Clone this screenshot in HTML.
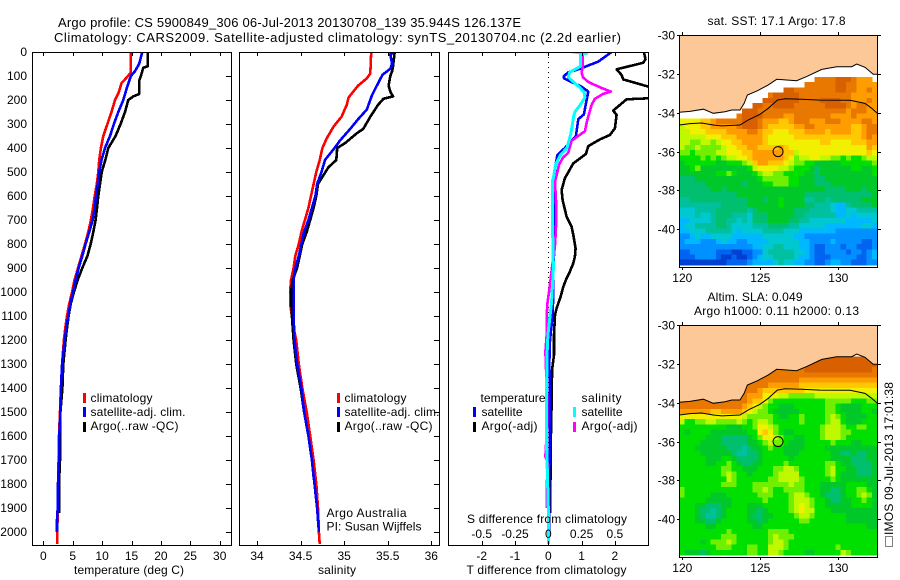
<!DOCTYPE html>
<html lang="en">
<head>
<meta charset="utf-8">
<title>Argo profile</title>
<style>
html,body{margin:0;padding:0;background:#fff;}
#stage{display:block;width:900px;height:580px;}
text{font-family:"Liberation Sans",sans-serif;font-size:12px;fill:#000;}
</style>
</head>
<body>
<svg id="stage" xmlns="http://www.w3.org/2000/svg" width="900" height="580" viewBox="0 0 900 580">
<rect x="0" y="0" width="900" height="580" fill="#fff"/>
<defs>
<clipPath id="clip-t"><rect x="32" y="52" width="199" height="493"/></clipPath>
<clipPath id="clip-s"><rect x="239" y="52" width="200" height="493"/></clipPath>
<clipPath id="clip-d"><rect x="448" y="52" width="200" height="493"/></clipPath>
<clipPath id="clip-m1"><rect x="679" y="35" width="198" height="232"/></clipPath>
<clipPath id="clip-m2"><rect x="679" y="325" width="198" height="232"/></clipPath>
</defs>
<g>
<text x="58" y="27" font-size="13" style="font-size:13px" textLength="463" lengthAdjust="spacing">Argo profile: CS 5900849_306 06-Jul-2013 20130708_139 35.944S 126.137E</text>
<text x="54" y="42" style="font-size:13px" textLength="567" lengthAdjust="spacing">Climatology: CARS2009. Satellite-adjusted climatology: synTS_20130704.nc (2.2d earlier)</text>
</g>
<g id="plots"></g>
<g>
<rect x="83" y="393" width="3" height="10" fill="#f00"/>
<rect x="83" y="407" width="3" height="10" fill="#00f"/>
<rect x="83" y="422" width="3" height="10" fill="#000"/>
<text x="90.5" y="402" textLength="62">climatology</text>
<text x="90.5" y="416" textLength="95">satellite-adj. clim.</text>
<text x="90.5" y="430" textLength="88">Argo(..raw -QC)</text>
</g>
<g>
<rect x="337" y="393" width="3" height="10" fill="#f00"/>
<rect x="337" y="407" width="3" height="10" fill="#00f"/>
<rect x="337" y="422" width="3" height="10" fill="#000"/>
<text x="344.5" y="402" textLength="62">climatology</text>
<text x="344.5" y="416" textLength="95">satellite-adj. clim.</text>
<text x="344.5" y="430" textLength="88">Argo(..raw -QC)</text>
<text x="326.5" y="517" textLength="80">Argo Australia</text>
<text x="326.5" y="530.5" textLength="95">PI: Susan Wijffels</text>
</g>
<g>
<text x="480.5" y="402" textLength="65">temperature</text>
<rect x="473" y="407" width="3" height="10" fill="#00f"/>
<rect x="473" y="422" width="3" height="10" fill="#000"/>
<text x="481.5" y="416" textLength="41">satellite</text>
<text x="481.5" y="430" textLength="56">Argo(-adj)</text>
<text x="581.5" y="402" textLength="40">salinity</text>
<rect x="573" y="407" width="3" height="10" fill="#0ff"/>
<rect x="573" y="422" width="3" height="10" fill="#f0f"/>
<text x="581.5" y="416" textLength="41">satellite</text>
<text x="581.5" y="430" textLength="56">Argo(-adj)</text>
<text x="467" y="523" textLength="160">S difference from climatology</text>
</g>
<text x="74" y="574" textLength="110">temperature (deg C)</text>
<text x="318" y="574" textLength="38">salinity</text>
<text x="466.5" y="574" textLength="160">T difference from climatology</text>
<text x="707.5" y="25" textLength="138">sat. SST: 17.1 Argo: 17.8</text>
<text x="707.5" y="301" textLength="95">Altim. SLA: 0.049</text>
<text x="694" y="315" textLength="165">Argo h1000: 0.11 h2000: 0.13</text>
<g>
<rect x="885.5" y="536.5" width="7" height="10" fill="none" stroke="#000" stroke-dasharray="1 1"/>
<text transform="translate(893,535) rotate(-90)" x="0" y="0" textLength="153">IMOS 09-Jul-2013 17:01:38</text>
</g>
<script>
var depthTicks = [0,100,200,300,400,500,600,700,800,900,1000,1100,1200,1300,1400,1500,1600,1700,1800,1900,2000];
var tempTicks = [0,5,10,15,20,25,30];
var salTicks = [34,34.5,35,35.5,36];
var tDiffTicks = [-2,-1,0,1,2];
var sDiffTicks = [-0.5,-0.25,0,0.25,0.5];
var lonTicks = [120,125,130];
var latTicks = [-30,-32,-34,-36,-38,-40];

var tempClimDepth = [0,85,100,130,170,200,250,300,350,400,450,500,550,600,650,700,750,800,850,900,950,1000,1050,1100,1150,1200,1300,1400,1500,1600,1700,1800,1900,2000,2050];
var tempClim = [14.9,14.9,14.4,13.3,12.8,12.2,11.6,10.9,10.2,9.8,9.5,9.35,9.1,8.74,8.45,8.1,7.65,7.1,6.5,5.9,5.3,4.9,4.4,4.03,3.75,3.5,3.2,3.0,2.84,2.67,2.6,2.5,2.45,2.38,2.38];
var tempSatDepth = [0,50,80,100,150,200,250,300,350,400,450,500,550,600,650,700,750,800,850,900,950,1000,1050,1100,1150,1200,1300,1400,1500,1600,1700,1800,1900,1950,2000];
var tempSat = [16.84,16.3,15.6,14.9,14.2,13.6,12.75,12.0,11.35,10.5,9.9,9.5,9.25,8.96,8.74,8.4,7.8,7.2,6.63,6.0,5.5,5.05,4.6,4.25,3.9,3.64,3.2,3.0,2.9,2.72,2.67,2.5,2.45,2.33,2.33];
var tempArgoDepth = [0,60,65,100,120,175,185,200,250,300,350,400,450,500,550,600,650,700,750,800,850,900,950,1000,1050,1100,1150,1200,1300,1400,1500,1600,1700,1800,1920];
var tempArgo = [17.75,17.75,17,16.6,16.3,16.3,15.3,14.45,13.9,13.15,12.3,11.05,10.55,9.93,9.64,9.35,9.13,8.9,8.5,8.06,7.5,6.63,5.85,5.2,4.66,4.3,4.03,3.8,3.4,3.25,2.9,2.84,2.84,2.67,2.67];

var salClimDepth = [0,90,110,140,190,220,270,310,360,400,450,500,550,600,650,700,750,800,850,900,950,1000,1050,1100,1150,1200,1300,1400,1500,1600,1700,1800,1900,2000,2050];
var salClim = [35.31,35.3,35.26,35.16,35.05,35.03,34.97,34.88,34.8,34.75,34.72,34.68,34.65,34.62,34.59,34.55,34.51,34.48,34.44,34.42,34.39,34.38,34.38,34.4,34.42,34.45,34.48,34.52,34.57,34.61,34.65,34.68,34.7,34.71,34.72];
var salSatDepth = [0,10,50,70,95,130,180,240,280,320,370,400,450,500,550,600,650,700,750,800,850,900,950,1000,1100,1200,1300,1400,1500,1600,1700,1800,1900,2000];
var salSat = [35.58,35.53,35.55,35.53,35.44,35.39,35.32,35.26,35.16,35.07,34.95,34.89,34.78,34.74,34.69,34.67,34.63,34.59,34.54,34.51,34.48,34.44,34.42,34.42,34.42,34.43,34.46,34.51,34.54,34.59,34.63,34.66,34.69,34.71];
var salArgoDepth = [0,60,80,100,140,165,185,195,220,270,320,340,380,400,450,480,550,600,650,700,750,800,850,900,950,1000,1100,1200,1300,1400,1500,1600,1700,1770];
var salArgo = [35.58,35.56,35.55,35.53,35.51,35.53,35.56,35.45,35.39,35.3,35.22,35.14,35.01,34.92,34.91,34.82,34.7,34.68,34.65,34.61,34.57,34.52,34.49,34.46,34.41,34.39,34.4,34.42,34.45,34.5,34.54,34.59,34.63,34.65];

var dTempSatDepth = [0,40,70,85,100,110,125,145,165,200,260,280,350,370,400,430,470,550,700,800,900,1000,1100,1200,1300,1400,2000];
var dTempSat = [1.9,1.5,0.95,0.6,0.47,0.47,0.7,1.0,1.2,1.15,1.07,0.9,0.83,0.7,0.5,0.27,0.22,0.18,0.16,0.19,0.15,0.15,0.13,0.05,0.03,0.05,0.02];
var dTempArgoDepth = [0,30,45,72,96,114,144,165,193,197,244,262,318,346,364,392,425,464,526,575,617,686,728,762,818,853,880,915,943,978,1020,1068,1096,1179,1262,1318,1401,1464,1658,1920];
var dTempArgo = [2.87,2.92,2.85,2.05,2.2,2.25,3.0,3.4,3.0,2.35,1.95,2.05,2.0,1.85,1.55,1.2,1.13,0.75,0.5,0.4,0.43,0.55,0.7,0.75,0.82,0.8,0.75,0.65,0.55,0.45,0.37,0.25,0.2,0.17,0.17,0.12,0.1,0.1,0.07,0.06];
var dSalSatDepth = [0,5,10,60,85,105,125,150,170,190,220,250,270,340,400,430,470,520,540,762,900,1040,1123,1179,1248,1367,1650,1900,2050];
var dSalSat = [0.18,0.288,0.24,0.24,0.16,0.15,0.19,0.24,0.27,0.275,0.24,0.2,0.19,0.17,0.14,0.09,0.055,0.04,0.03,0.033,0.038,0.025,0.008,-0.003,-0.008,-0.012,-0.012,0,0];
var dSalArgoDepth = [0,10,60,85,105,125,150,165,175,195,220,260,290,330,350,370,400,420,440,470,520,540,620,700,762,804,845,887,943,1000,1040,1096,1179,1248,1450,1550,1686,1720,1800,1900];
var dSalArgo = [0.25,0.26,0.26,0.25,0.26,0.3,0.4,0.47,0.41,0.35,0.325,0.305,0.29,0.275,0.225,0.175,0.16,0.15,0.11,0.08,0.06,0.05,0.058,0.06,0.055,0.05,0.043,0.03,0.018,0.005,-0.005,-0.012,-0.012,-0.022,-0.008,-0.008,-0.022,0,-0.012,-0.012];

var coastLon = [119.81,120.49,121.35,121.99,122.74,123.17,123.7,123.96,124.17,124.81,125.51,126.05,127.33,127.97,128.94,129.9,130.86,131.18,131.71,132.24,132.5];
var coastLat = [-33.98,-33.93,-33.82,-34.03,-33.95,-33.86,-33.86,-33.52,-33.09,-32.87,-32.57,-32.28,-32.35,-32.14,-31.77,-31.63,-31.63,-31.49,-31.66,-32.02,-32.02];
var shelfLon = [119.81,120.49,121.24,121.99,122.53,123.7,124.23,124.98,125.51,126.09,126.58,127.65,128.83,130.75,131.71,132.14,132.5];
var shelfLat = [-34.63,-34.56,-34.53,-34.63,-34.68,-34.63,-34.37,-34.08,-33.77,-33.35,-33.28,-33.31,-33.35,-33.36,-33.52,-33.77,-34.03];
var floatLon = [126.137];
var floatLat = [-36];

var sstRows = [
[0,0,0,0,0,0,0,0,0,0,0,0,0,0,0,0,0,0,0,0,0,0,0,0,0,0,15,15,15,15,16,16,16,15,14,14,14,0],
[0,0,0,0,0,0,0,0,0,0,0,0,0,0,0,0,0,0,0,0,0,0,0,0,15,15,15,15,15,15,16,16,15,15,14,14,14,14],
[0,0,0,0,0,0,0,0,0,0,0,0,0,0,0,0,0,0,0,0,16,16,15,15,15,15,15,15,15,15,16,16,15,15,14,14,15,14],
[0,0,0,0,0,0,0,0,0,0,0,0,0,0,0,0,0,15,16,16,16,16,16,15,15,15,15,15,15,15,15,15,15,14,14,14,14,14],
[0,0,0,0,0,0,0,0,0,0,0,0,0,0,0,0,16,16,16,16,16,16,16,15,15,15,15,16,16,16,16,15,15,14,14,14,15,14],
[0,0,0,0,0,0,0,0,0,0,0,0,0,0,16,16,15,15,16,16,16,16,15,15,15,15,15,15,16,16,16,16,15,14,15,15,14,14],
[0,0,0,0,0,0,0,0,0,0,0,0,16,16,16,15,15,15,15,15,15,15,15,15,15,15,15,15,15,15,15,15,14,15,15,15,14,14],
[0,0,0,0,0,0,0,0,0,0,0,15,16,16,16,16,15,15,15,15,14,14,15,15,15,15,15,15,15,14,14,14,14,15,14,14,14,14],
[12,12,12,12,13,13,14,15,15,15,15,15,16,16,16,15,14,14,14,13,13,14,15,15,15,14,14,14,15,15,15,14,14,14,14,15,15,14],
[11,12,12,12,13,13,14,14,14,14,14,15,16,16,16,15,14,13,13,13,13,13,14,14,15,15,14,14,14,14,14,14,14,13,13,14,15,15],
[11,11,12,12,12,13,13,13,13,14,14,14,14,15,15,14,13,13,12,12,12,13,13,13,14,14,14,14,13,14,14,14,14,13,13,14,15,15],
[11,11,11,11,11,12,12,12,13,13,13,14,14,14,14,14,13,12,12,12,12,12,13,13,13,13,13,13,13,13,13,13,13,13,13,14,15,14],
[11,11,10,10,11,11,10,11,12,12,13,13,14,14,14,14,13,12,12,12,12,12,12,12,12,12,12,13,13,12,12,12,12,13,13,13,14,14],
[11,10,10,11,10,10,10,10,11,12,12,13,13,14,14,13,13,13,13,14,13,12,12,12,12,12,12,12,12,12,12,12,12,12,12,12,14,13],
[10,10,9,10,10,10,10,11,11,12,12,12,13,13,14,14,14,14,14,14,13,13,11,12,12,12,12,12,12,12,12,12,12,12,12,12,13,12],
[9,9,9,9,10,9,10,9,10,11,11,12,12,13,14,14,14,14,14,14,13,12,10,11,11,12,12,11,11,10,10,9,10,9,9,10,11,11],
[8,9,9,9,9,9,9,8,8,9,9,9,10,11,13,14,14,13,13,13,12,11,10,10,9,9,8,8,8,8,8,9,9,9,9,9,9,10],
[8,8,9,10,8,8,8,8,8,8,8,8,8,9,11,12,12,12,12,11,11,10,9,9,9,8,7,8,8,8,8,8,8,9,9,8,8,9],
[8,8,8,8,8,8,8,9,9,10,9,8,8,8,9,10,11,11,10,10,9,9,9,9,8,8,7,8,8,8,8,8,8,8,8,8,8,9],
[7,7,7,8,8,8,8,8,8,8,8,8,8,8,8,9,10,10,10,10,10,9,9,8,8,8,7,7,8,8,8,8,8,8,8,8,8,8],
[7,7,7,7,7,8,8,8,8,8,8,8,7,8,8,8,9,9,10,10,10,9,9,8,8,8,7,7,7,8,8,8,8,8,8,8,8,8],
[7,7,7,7,7,7,8,8,7,8,8,8,8,8,8,8,8,8,8,8,8,8,8,8,8,8,8,8,7,7,7,7,8,8,8,7,8,8],
[7,7,7,7,7,7,7,7,7,7,7,8,8,8,8,8,8,8,8,8,8,8,8,8,7,7,7,7,7,7,7,7,7,7,7,7,7,8],
[6,6,7,7,7,7,7,7,7,7,7,7,7,8,8,8,7,8,8,9,8,8,8,8,6,6,7,7,6,7,7,7,7,7,7,8,8,8],
[6,6,6,6,6,6,6,6,7,7,7,7,7,8,8,8,8,8,8,9,8,8,8,8,7,7,6,6,6,5,4,4,6,7,7,7,7,8],
[5,5,5,6,6,6,6,7,7,7,7,7,7,6,7,8,8,8,8,8,8,8,7,7,7,6,6,6,6,5,4,4,5,5,6,6,6,6],
[5,5,5,6,5,5,6,7,7,7,6,6,6,5,7,7,7,8,8,8,8,8,7,7,6,6,6,6,6,6,4,4,5,4,5,5,5,5],
[4,4,5,5,5,5,6,7,7,6,6,5,6,5,7,7,7,8,8,8,8,7,7,6,6,5,5,5,5,5,5,5,4,4,4,4,4,5],
[4,5,5,6,6,6,6,7,7,6,5,5,5,5,6,6,6,7,7,7,7,6,6,5,5,5,5,5,4,4,4,4,4,4,4,5,5,4],
[4,4,5,5,5,6,6,6,6,6,5,4,5,5,5,5,6,6,6,6,5,5,5,4,4,4,4,4,4,4,3,3,3,3,3,3,3,3],
[3,3,4,5,4,4,5,5,5,5,4,4,4,4,4,4,5,5,5,5,5,5,4,4,3,3,3,3,3,3,3,3,3,3,3,3,3,3],
[3,4,4,4,3,3,3,4,5,4,4,3,3,4,4,4,4,5,5,5,5,5,5,4,4,3,3,3,3,4,3,3,3,3,3,2,2,3],
[3,3,3,3,3,3,3,3,3,3,3,3,3,3,4,4,5,5,6,6,5,5,5,4,4,3,2,2,3,3,3,2,3,3,2,2,2,3],
[2,2,3,3,3,3,3,2,2,2,1,1,2,2,3,3,5,6,6,6,6,6,5,5,4,3,2,2,3,3,3,3,2,3,3,2,3,4],
[2,2,2,3,3,3,3,2,1,1,2,1,1,2,3,4,5,5,6,6,6,6,5,4,4,3,2,2,2,3,3,3,3,3,2,2,3,4],
[1,1,1,1,1,1,1,1,1,2,2,2,2,3,4,4,4,4,5,6,5,5,4,4,3,3,2,2,3,4,4,3,3,2,2,2,3,3]
];

var slaRows = [
[16,16,16,16,16,16,16,16,16,16,16,16,16,16,16,16,16,16,16,16,16,16,16,16,16,16,16,16,16,16,16,16,16,16,16,16,16,16],
[16,16,16,16,16,16,16,16,16,16,16,16,16,16,16,16,16,16,16,16,16,16,16,16,16,16,16,16,16,16,16,16,16,16,16,16,16,16],
[15,15,15,15,15,15,15,15,15,15,15,15,15,15,15,15,15,15,15,15,15,15,15,15,16,16,16,16,16,16,16,16,16,16,16,16,16,15],
[15,15,15,15,15,15,15,15,15,15,15,15,15,15,15,15,15,15,15,15,15,15,15,15,15,15,15,15,15,15,15,15,15,15,15,15,15,15],
[15,15,15,15,15,15,15,15,15,15,15,15,15,15,15,15,15,15,15,15,15,15,15,14,14,14,14,14,14,14,14,14,14,14,14,14,14,14],
[15,15,15,15,15,15,15,15,15,15,15,15,15,15,15,15,15,14,14,14,14,14,14,13,13,13,13,13,13,13,13,13,13,13,13,13,13,13],
[15,15,15,15,15,15,15,15,15,15,15,15,15,15,15,14,13,13,13,13,13,13,13,13,12,12,12,12,12,12,12,12,12,12,12,12,12,12],
[15,15,15,15,15,15,15,15,15,15,15,15,15,14,14,14,12,12,12,11,11,10,10,10,10,10,11,11,11,11,11,11,11,11,11,11,11,11],
[15,15,15,15,15,15,15,15,15,15,15,15,15,14,13,13,12,10,9,9,9,9,9,9,9,9,9,9,10,10,10,10,10,9,9,9,10,10],
[15,15,15,15,15,15,15,15,15,15,15,15,14,13,12,11,10,9,9,8,8,8,9,9,9,9,9,9,10,10,9,8,8,8,8,9,9,9],
[14,14,14,14,14,14,13,13,14,14,14,14,13,12,11,10,10,9,8,8,8,8,8,9,9,9,9,9,10,10,9,8,8,8,8,9,9,8],
[12,12,12,12,12,12,12,12,12,12,12,12,11,10,10,10,10,10,9,8,8,9,9,10,9,9,9,9,10,11,10,9,8,8,8,8,9,9],
[11,9,9,10,10,11,11,10,10,10,10,11,10,9,10,11,11,10,9,9,9,9,9,10,9,9,9,9,10,11,11,9,8,8,8,9,9,9],
[9,9,9,9,9,9,9,9,9,8,8,8,9,9,10,12,12,11,10,9,9,9,9,9,9,9,9,10,11,11,11,10,9,9,10,10,9,9],
[9,8,9,9,9,9,8,8,8,8,8,8,8,9,9,12,13,12,10,9,8,8,9,9,9,9,9,10,11,11,11,10,10,9,9,9,9,9],
[9,9,9,9,9,8,8,8,7,7,7,7,7,8,9,10,12,12,11,10,9,9,8,8,9,9,9,10,11,11,11,10,9,9,9,9,9,9],
[9,9,9,9,8,8,8,8,7,7,7,7,7,8,8,9,10,11,10,10,9,8,8,8,9,9,9,9,9,10,9,9,9,8,8,9,9,9],
[9,9,9,8,8,8,8,8,8,7,7,7,6,7,8,8,9,10,9,9,8,8,8,8,9,9,9,9,8,8,8,8,8,8,8,8,8,8],
[9,9,9,9,8,8,8,8,8,8,7,6,6,7,7,8,9,9,9,9,8,8,8,9,9,9,9,9,9,8,8,7,7,8,7,7,8,8],
[9,9,9,9,9,8,8,8,9,9,8,7,7,7,7,8,9,9,9,9,9,8,9,9,9,9,9,9,9,8,8,8,8,7,7,7,8,8],
[9,9,9,9,9,8,8,9,9,10,9,8,7,7,8,8,9,9,9,9,10,9,9,9,9,9,9,9,10,10,9,8,8,7,7,7,7,8],
[9,9,9,9,9,9,9,9,10,10,9,9,8,8,8,9,9,9,10,10,11,11,10,9,9,9,9,9,10,11,9,9,8,8,7,7,7,8],
[9,9,9,9,9,9,9,9,10,11,10,9,9,8,9,9,9,9,10,11,11,11,11,9,9,9,9,9,10,11,9,8,8,8,7,7,7,8],
[9,9,9,9,9,9,9,9,9,11,10,9,9,9,9,9,9,10,10,11,11,11,11,10,9,9,9,9,9,10,9,8,8,8,8,8,8,8],
[9,9,9,9,9,9,9,9,10,10,10,9,9,9,10,10,10,10,10,10,10,11,10,10,9,9,9,8,8,8,8,8,9,9,9,9,8,8],
[10,9,9,9,9,9,9,9,9,9,9,9,9,9,10,10,11,10,9,9,10,10,10,10,9,9,9,8,8,7,7,8,9,9,10,10,9,8],
[10,9,9,9,9,9,8,8,8,9,9,9,9,9,9,10,10,10,9,9,9,10,11,11,10,9,9,8,7,7,7,8,9,9,10,11,10,8],
[9,9,9,9,9,8,8,8,8,8,9,9,9,9,9,9,10,9,9,9,9,10,11,11,11,10,9,9,8,7,7,8,8,9,9,10,9,8],
[9,9,9,8,8,7,7,7,8,8,9,9,9,8,8,8,9,9,9,9,9,10,11,12,11,10,9,9,8,8,8,8,8,9,9,9,9,8],
[9,9,9,8,7,7,6,7,8,9,9,9,9,8,8,7,8,9,9,9,9,10,11,12,11,11,9,9,9,8,8,8,8,8,8,8,8,8],
[9,9,9,8,7,6,6,7,8,9,9,9,9,8,7,7,8,8,9,9,9,9,10,11,11,10,9,9,9,9,9,9,8,8,8,8,8,8],
[9,9,9,8,8,7,7,8,9,9,9,9,9,8,8,7,8,9,9,9,9,9,9,10,10,9,9,9,9,9,9,9,8,8,8,8,8,8],
[9,9,9,9,9,8,8,9,9,9,9,9,9,9,8,8,9,9,9,9,9,9,9,9,9,9,9,9,9,9,9,9,9,9,9,9,8,8],
[9,9,9,9,9,9,9,9,9,10,9,9,9,9,9,9,9,10,10,10,10,9,9,9,9,9,9,9,9,9,9,9,9,9,9,9,9,9],
[9,9,9,9,9,9,9,9,10,10,10,9,9,9,9,9,9,10,11,10,10,10,9,9,9,9,9,9,9,9,9,9,9,9,9,9,9,9],
[9,9,9,9,8,9,10,10,10,11,10,9,9,9,9,9,9,10,11,11,10,9,9,9,9,9,9,9,9,9,9,9,9,9,9,9,9,9],
[9,9,9,9,9,9,9,10,10,10,9,9,9,10,10,9,9,11,11,11,10,9,9,9,9,9,9,9,9,9,10,9,9,9,9,9,9,9],
[9,8,8,8,7,8,9,9,9,9,9,9,9,10,10,9,9,11,11,10,9,9,9,9,8,8,9,9,9,9,9,11,10,9,9,9,9,9]
];

var NS = 'http://www.w3.org/2000/svg';
var plots = document.getElementById('plots');
var TOP = 52, BOTTOM = 545;
var levelColours = ['#fff','#0040d0','#0064f0','#0090ff','#00b8ff','#00c8d0','#00c0a0','#00c070','#00c828','#00e000','#70f000','#c0f800','#f0f000','#ffc800','#ff9c00','#e87800','#d86000'];

function yDepth(d){ return TOP + d * 0.24; }
function xTemp(t){ return 43.3 + t * 5.88; }
function xSal(s){ return 257 + (s - 34) * 87.15; }
function xTDiff(t){ return 548.3 + t * 33.3; }
function xSDiff(s){ return 548.3 + s * 133.2; }
function xLon(lon){ return 682.3 + (lon - 120) * 15.6; }
function yLat(lat, top){ return top + (-30 - lat) * 19.43; }

function make(tag, attrs, parent){
  var el = document.createElementNS(NS, tag);
  for (var k in attrs) el.setAttribute(k, attrs[k]);
  (parent || plots).appendChild(el);
  return el;
}
function label(str, x, y, anchor, name, parent){
  var el = make('text', {x: x, y: y, 'text-anchor': anchor}, parent);
  el.textContent = str;
  
  
  return el;
}
function tick(x1, y1, x2, y2, name, parent){
  var el = make('line', {x1: x1, y1: y1, x2: x2, y2: y2, stroke: '#000', 'stroke-width': 1, 'shape-rendering': 'crispEdges'}, parent);
  
  
  return el;
}
function profile(depths, values, xFn, colour, name, clip, width){
  var pts = [];
  for (var i = 0; i < depths.length; i++) pts.push(xFn(values[i]).toFixed(1) + ',' + yDepth(depths[i]).toFixed(1));
  var el = make('polyline', {points: pts.join(' '), fill: 'none', stroke: colour, 'stroke-width': width || 2.6, 'shape-rendering': 'crispEdges', 'clip-path': 'url(#' + clip + ')', 'stroke-linejoin': 'round'});
  
  
  return el;
}
function panelFrame(x0, x1, name){
  var el = make('rect', {x: x0 + 0.5, y: TOP + 0.5, width: x1 - x0, height: BOTTOM - TOP, fill: 'none', stroke: '#000', 'stroke-width': 1, 'shape-rendering': 'crispEdges'});
  
  
}
function xTicks(values, xFn, labelY, name){
  values.forEach(function(v){
    var x = Math.round(xFn(v)) + 0.5;
    tick(x, TOP, x, TOP + 4, name + '-tick-top');
    tick(x, BOTTOM, x, BOTTOM - 4, name + '-tick-bottom');
    if (labelY) label(String(v), xFn(v), labelY, 'middle', name + '-tick-label');
  });
}
function rightTicks(x1){
  depthTicks.forEach(function(d){
    var y = Math.round(yDepth(d)) + 0.5;
    tick(x1 - 5, y, x1, y, 'depth-tick');
  });
}

/* temperature panel */
depthTicks.forEach(function(d){
  label(String(d), 27, yDepth(d) + 4, 'end', 'depth-tick-label');
});
profile(tempClimDepth, tempClim, xTemp, '#f00', 'temperature-climatology-line', 'clip-t');
profile(tempArgoDepth, tempArgo, xTemp, '#000', 'temperature-argo-line', 'clip-t');
profile(tempSatDepth, tempSat, xTemp, '#00f', 'temperature-satellite-line', 'clip-t');
panelFrame(32, 231, 'temperature-plot-frame');
xTicks(tempTicks, xTemp, 560, 'temperature');
rightTicks(231);

/* salinity panel */
profile(salClimDepth, salClim, xSal, '#f00', 'salinity-climatology-line', 'clip-s');
profile(salArgoDepth, salArgo, xSal, '#000', 'salinity-argo-line', 'clip-s');
profile(salSatDepth, salSat, xSal, '#00f', 'salinity-satellite-line', 'clip-s');
panelFrame(239, 439, 'salinity-plot-frame');
xTicks(salTicks, xSal, 560, 'salinity');
rightTicks(439);

/* difference panel */
var zero = make('line', {x1: 548.5, y1: TOP, x2: 548.5, y2: BOTTOM, stroke: '#000', 'stroke-width': 1, 'stroke-dasharray': '1 4', 'shape-rendering': 'crispEdges'});


profile(dTempArgoDepth, dTempArgo, xTDiff, '#000', 't-difference-argo-line', 'clip-d');
profile(dTempSatDepth, dTempSat, xTDiff, '#00f', 't-difference-satellite-line', 'clip-d');
profile(dSalArgoDepth, dSalArgo, xSDiff, '#f0f', 's-difference-argo-line', 'clip-d');
profile(dSalSatDepth, dSalSat, xSDiff, '#0ff', 's-difference-satellite-line', 'clip-d', 3);
panelFrame(448, 648, 'difference-plot-frame');
xTicks(tDiffTicks, xTDiff, 560, 't-difference');
sDiffTicks.forEach(function(v){
  label(String(v), xSDiff(v), 538, 'middle', 's-difference-tick-label');
});

/* maps */
function drawMap(rows, firstLat, top, clip, prefix){
  var g = make('g', {'clip-path': 'url(#' + clip + ')'});
  
  
  var dLon = 1 / 3, dLat = 0.2687, firstLon = 119.82;
  rows.forEach(function(row, r){
    row.forEach(function(level, c){
      if (!level) return;
      var x = xLon(firstLon + c * dLon);
      var y = yLat(firstLat - r * dLat, top);
      var cell = make('rect', {x: x.toFixed(1), y: y.toFixed(1), width: 5.7, height: 5.7, fill: levelColours[level], 'shape-rendering': 'crispEdges'}, g);
      
      
    });
  });
  var pts = [];
  coastLon.forEach(function(lon, i){ pts.push(xLon(lon).toFixed(1) + ',' + yLat(coastLat[i], top).toFixed(1)); });
  var landPts = pts.concat([xLon(132.6).toFixed(1) + ',' + (top - 2), xLon(119.7).toFixed(1) + ',' + (top - 2)]);
  var land = make('polygon', {points: landPts.join(' '), fill: '#fdc897', stroke: 'none'}, g);
  
  
  var coast = make('polyline', {points: pts.join(' '), fill: 'none', stroke: '#000', 'stroke-width': 1}, g);
  
  
  var sPts = [];
  shelfLon.forEach(function(lon, i){ sPts.push(xLon(lon).toFixed(1) + ',' + yLat(shelfLat[i], top).toFixed(1)); });
  var shelf = make('polyline', {points: sPts.join(' '), fill: 'none', stroke: '#000', 'stroke-width': 1}, g);
  
  
  var marker = make('circle', {cx: xLon(floatLon[0]), cy: yLat(floatLat[0], top), r: 5, fill: 'none', stroke: '#000', 'stroke-width': 1}, g);
  
  

  var frame = make('rect', {x: 679.5, y: top + 0.5, width: 198, height: 232, fill: 'none', stroke: '#000', 'stroke-width': 1, 'shape-rendering': 'crispEdges'});
  
  
  lonTicks.forEach(function(lon){
    var x = Math.round(xLon(lon)) + 0.5;
    tick(x, top - 3, x, top, prefix + '-lon-tick');
    tick(x, top + 232, x, top + 235, prefix + '-lon-tick');
    label(String(lon), xLon(lon), top + 247, 'middle', prefix + '-lon-label');
  });
  latTicks.forEach(function(lat){
    var y = Math.round(yLat(lat, top)) + 0.5;
    tick(677, y, 679, y, prefix + '-lat-tick');
    tick(878, y, 881, y, prefix + '-lat-tick');
    label(String(lat), 675, y + 4, 'end', prefix + '-lat-label');
  });
}
drawMap(sstRows, -32.16, 35, 'clip-m1', 'sst');
drawMap(slaRows, -31.626, 325, 'clip-m2', 'sla');
</script>
</svg>
</body>
</html>
